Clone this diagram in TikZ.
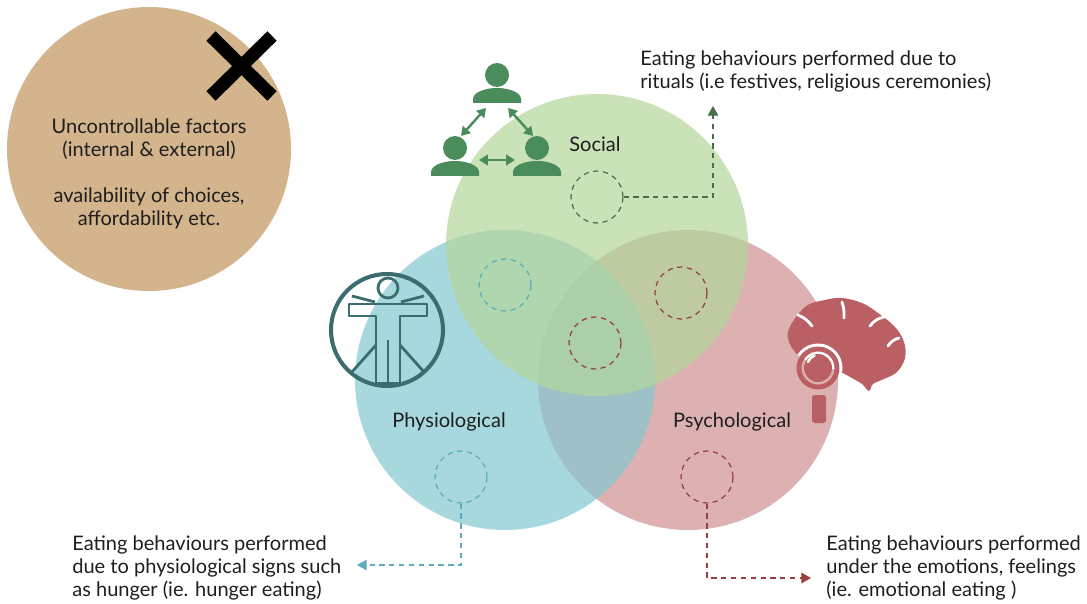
\documentclass[tikz,border=0pt]{standalone}
\usepackage{fontspec}
\setmainfont{Lato}
\usetikzlibrary{arrows.meta}

\begin{document}
\begin{tikzpicture}[x=0.02cm,y=-0.02cm]

	\definecolor{tan}{RGB}{211,180,140}
	\definecolor{socfill}{RGB}{178,214,154}
	\definecolor{phyfill}{RGB}{130,200,208}
	\definecolor{psyfill}{RGB}{206,144,145}
	\definecolor{socdark}{RGB}{74,140,92}
	\definecolor{socline}{RGB}{72,112,72}
	\definecolor{phyline}{RGB}{92,172,188}
	\definecolor{phydark}{RGB}{58,108,112}
	\definecolor{psyline}{RGB}{150,62,64}
	\definecolor{psydark}{RGB}{186,96,100}
	\definecolor{txt}{RGB}{30,30,30}

	\tikzstyle{lbl} = [font=\fontsize{11.4}{13.1}\selectfont, text=txt, inner sep=0]
	\tikzstyle{ring} = [circle, draw, dashed, dash pattern=on 3pt off 2.6pt, line width=0.7pt, minimum size=1.04cm, inner sep=0]
	\tikzstyle{link} = [draw, dashed, dash pattern=on 3pt off 2.6pt, line width=0.7pt, -{Triangle[length=5.5pt,width=6pt]}]
	\tikzstyle{twoway} = [socdark, line width=1.4pt, {Triangle[length=5pt,width=6pt]}-{Triangle[length=5pt,width=6pt]}]

	\useasboundingbox (0,0) rectangle (1087,604);

	% uncontrollable factors
	\fill[tan] (149,149) circle (142);
	\draw[line width=7.5pt] (211,36) -- (272,96) (272,36) -- (211,96);
	\node[lbl, align=center] (uncontr) at (149,174) {Uncontrollable factors\\(internal \& external)\\[13.1pt]availability of choices,\\affordability etc.};

	% the three circles
	\fill[psyfill, fill opacity=0.7] (688,380) circle (150);
	\fill[phyfill, fill opacity=0.7] (505,380) circle (150);
	\fill[socfill, fill opacity=0.7] (597,245) circle (151);

	\node[lbl] (social) at (595,144) {Social};
	\node[lbl] (physio) at (449,422) {Physiological};
	\node[lbl] (psycho) at (732,422) {Psychological};

	% dashed rings
	\node[ring, draw=socline] (socring) at (597,197) {};
	\node[ring, draw=phyline] (midring) at (505,285) {};
	\node[ring, draw=psyline] (rightring) at (681,293) {};
	\node[ring, draw=psyline] (centring) at (595,343) {};
	\node[ring, draw=phyline] (phyring) at (461,477) {};
	\node[ring, draw=psyline] (psyring) at (707,477) {};

	\coordinate (socarr) at (713,106);
	\coordinate (phyarr) at (357,565);
	\coordinate (psyarr) at (811,578);

	\draw[link, socline] (socring.east) -| (socarr);
	\draw[link, phyline] (phyring.south) |- (phyarr);
	\draw[link, psyline] (psyring.south) |- (psyarr);

	\node[lbl, anchor=north west, align=left] (soctext) at (640,50) {Eating behaviours performed due to\\rituals (i.e festives, religious ceremonies)};
	\node[lbl, anchor=north west, align=left] (phytext) at (72,535) {Eating behaviours performed\\due to physiological signs such\\as hunger (ie. hunger eating)};
	\node[lbl, anchor=north west, align=left] (psytext) at (826,535) {Eating behaviours performed\\under the emotions, feelings\\(ie. emotional eating )};

	% people icon
	\foreach \px/\py in {497/75, 455/148, 537/148} {
		\fill[socdark] (\px,\py) circle (12);
		\fill[socdark] (\px-24,\py+28) -- (\px-24,\py+24) arc[start angle=180, end angle=360, x radius=24, y radius=11] -- (\px+24,\py+28) -- cycle;
	}
	\draw[twoway] (486,108) -- (461,136);
	\draw[twoway] (508,108) -- (533,136);
	\draw[twoway] (479,160) -- (515,160);

	% human figure
	\draw[phydark, line width=2.3pt] (387,330) circle (56);
	\begin{scope}[phydark, line width=1.6pt, line join=round]
		\draw (388,288) circle (10);
		\draw (376,383) -- (376,316) -- (349,316) -- (349,304) -- (427,304) -- (427,316) -- (400,316) -- (400,383) -- cycle;
		\draw (388,340) -- (388,383);
		\draw (352,296) -- (375,302) (424,296) -- (401,302);
		\draw (376,345) -- (352,372) (400,345) -- (424,372);
	\end{scope}

	% brain with magnifier
	\fill[psydark] plot[smooth cycle, tension=0.6] coordinates {(788,332) (805,307) (825,300) (842,298) (862,303) (878,313) (895,327) (904,342) (905,358) (897,372) (884,379) (873,384) (869,391) (862,384) (850,377) (836,370) (815,365) (795,352)};
	\begin{scope}[white, line width=1.6pt, line cap=round]
		\draw (798,315) to[bend left=15] (812,326);
		\draw (842,302) to[bend left=10] (844,318);
		\draw (870,326) to[bend left=20] (884,317);
		\draw (888,346) to[bend left=20] (899,338);
	\end{scope}
	\begin{scope}
		\clip plot[smooth cycle, tension=0.6] coordinates {(788,332) (805,307) (825,300) (842,298) (862,303) (878,313) (895,327) (904,342) (905,358) (897,372) (884,379) (873,384) (869,391) (862,384) (850,377) (836,370) (815,365) (795,352)};
		\fill[white] (818,368) circle (24.5);
	\end{scope}
	\draw[psydark, line width=2.8pt] (818,368) circle (19);
	\fill[psydark] (818,368) circle (14);
	\draw[white, line width=1.4pt, line cap=round] (808,362) arc[start angle=200, end angle=250, radius=11];
	\fill[psydark, rounded corners=1.5pt] (812,395) rectangle (826,423);

\end{tikzpicture}
\end{document}
